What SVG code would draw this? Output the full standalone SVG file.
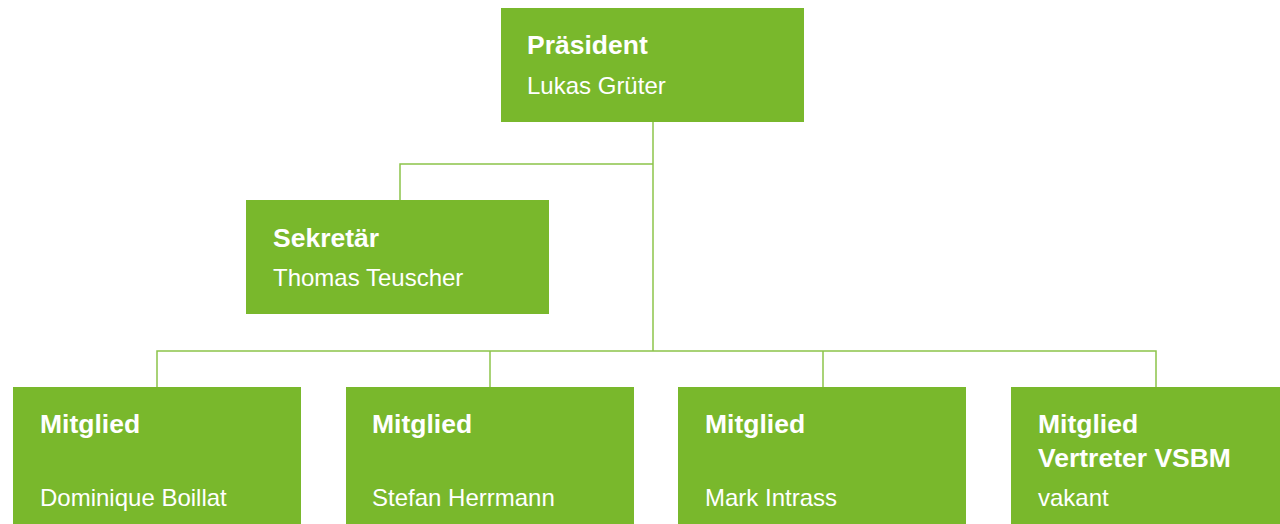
<svg xmlns="http://www.w3.org/2000/svg" width="1280" height="524" viewBox="0 0 1280 524">
<style>
.box{fill:#79b82c}
.t{font-family:"Liberation Sans",Arial,sans-serif;fill:#ffffff}
.b{font-weight:bold;font-size:26.5px}
.r{font-size:24px}
.ln{fill:none;stroke:#8cc44a;stroke-width:1.5}
</style>
<rect width="1280" height="524" fill="#ffffff"/>
<g id="connectors">
<path class="ln" d="M653 122V351"/>
<path class="ln" d="M653 164H400V200"/>
<path class="ln" d="M157 387V351H1156V387"/>
<path class="ln" d="M490 351V387"/>
<path class="ln" d="M823 351V387"/>
</g>
<g id="praesident">
<rect class="box" x="501" y="8" width="303" height="114"/>
<text class="t b" x="527" y="54">Präsident</text>
<text class="t r" x="527" y="94">Lukas Grüter</text>
</g>
<g id="sekretaer">
<rect class="box" x="246" y="200" width="303" height="114"/>
<text class="t b" x="273" y="246.5">Sekretär</text>
<text class="t r" x="273" y="286">Thomas Teuscher</text>
</g>
<g id="mitglied1">
<rect class="box" x="13" y="387" width="288" height="137"/>
<text class="t b" x="40" y="433">Mitglied</text>
<text class="t r" x="40" y="505.5">Dominique Boillat</text>
</g>
<g id="mitglied2">
<rect class="box" x="346" y="387" width="288" height="137"/>
<text class="t b" x="372" y="433">Mitglied</text>
<text class="t r" x="372" y="505.5">Stefan Herrmann</text>
</g>
<g id="mitglied3">
<rect class="box" x="678" y="387" width="288" height="137"/>
<text class="t b" x="705" y="433">Mitglied</text>
<text class="t r" x="705" y="505.5">Mark Intrass</text>
</g>
<g id="mitglied4">
<rect class="box" x="1011" y="387" width="269" height="137"/>
<text class="t b" x="1038" y="432.5">Mitglied</text>
<text class="t b" x="1038" y="467">Vertreter VSBM</text>
<text class="t r" x="1038" y="505.5">vakant</text>
</g>
</svg>
